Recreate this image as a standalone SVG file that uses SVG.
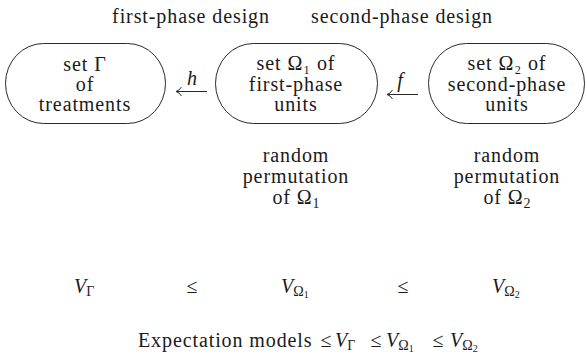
<svg xmlns="http://www.w3.org/2000/svg" width="587" height="357" viewBox="0 0 587 357" font-family="'Liberation Serif', 'DejaVu Serif', serif">
<style>
text{font-family:'Liberation Serif','DejaVu Serif',serif;font-size:20px;letter-spacing:0.9px;fill:#1a1a1a}
.m{text-anchor:middle}
.i{font-style:italic;letter-spacing:0}
.s{font-size:14px;font-style:normal;letter-spacing:0}
.ss{font-size:10px;font-style:normal;letter-spacing:0}
.le{letter-spacing:0}
.box{fill:none;stroke:#2a2a2a;stroke-width:1}
.ln{fill:none;stroke:#2a2a2a;stroke-width:1}
</style>
<rect width="587" height="357" fill="#fff"/>
<g id="phase-labels">
<text class="m" x="191" y="23">first-phase design</text>
<text class="m" x="402" y="23">second-phase design</text>
</g>
<g id="node-gamma">
<rect class="box" x="5.5" y="43.5" width="160" height="80" rx="38" ry="40"/>
<text class="m" x="85" y="71">set Γ</text>
<text class="m" x="85" y="91">of</text>
<text class="m" x="85" y="111">treatments</text>
</g>
<g id="node-omega1">
<rect class="box" x="215.5" y="43.5" width="162" height="80" rx="38" ry="40"/>
<text class="m" x="296" y="70">set Ω₁ of</text>
<text class="m" x="296" y="91">first-phase</text>
<text class="m" x="296" y="111">units</text>
</g>
<g id="node-omega2">
<rect class="box" x="428.5" y="43.5" width="156" height="80" rx="38" ry="40"/>
<text class="m" x="507" y="70">set Ω₂ of</text>
<text class="m" x="507" y="91">second-phase</text>
<text class="m" x="507" y="111">units</text>
</g>
<g id="connectors">
<path class="ln" d="M207,91.5 H176 M181.5,87 Q179.5,90.5 176,91.5 Q179.5,92.5 181.5,96"/>
<text class="i m" x="192" y="85">h</text>
<path class="ln" d="M418,94.5 H387 M392.5,90 Q390.5,93.5 387,94.5 Q390.5,95.5 392.5,99"/>
<text class="i m" x="400" y="87">f</text>
</g>
<g id="perm1">
<text class="m" x="296" y="162">random</text>
<text class="m" x="296" y="183">permutation</text>
<text class="m" x="296" y="204">of Ω<tspan class="s" dy="4">1</tspan></text>
</g>
<g id="perm2">
<text class="m" x="507" y="162">random</text>
<text class="m" x="507" y="183">permutation</text>
<text class="m" x="507" y="204">of Ω<tspan class="s" dy="4">2</tspan></text>
</g>
<g id="variance-row">
<text class="i" x="74" y="293">V<tspan class="s" dy="3">Γ</tspan></text>
<text class="m le" x="192" y="293">≤</text>
<text class="i" x="281" y="293">V<tspan class="s" dy="3">Ω</tspan><tspan class="ss" dy="2">1</tspan></text>
<text class="m le" x="403" y="293">≤</text>
<text class="i" x="492" y="293">V<tspan class="s" dy="3">Ω</tspan><tspan class="ss" dy="2">2</tspan></text>
</g>
<g id="expectation-row">
<text x="138" y="347">Expectation models</text>
<text class="m le" x="326" y="347">≤</text>
<text class="i" x="335" y="347">V<tspan class="s" dy="3">Γ</tspan></text>
<text class="m le" x="376" y="347">≤</text>
<text class="i" x="386" y="347">V<tspan class="s" dy="3">Ω</tspan><tspan class="ss" dy="2">1</tspan></text>
<text class="m le" x="438" y="347">≤</text>
<text class="i" x="450" y="347">V<tspan class="s" dy="3">Ω</tspan><tspan class="ss" dy="2">2</tspan></text>
</g>
</svg>
